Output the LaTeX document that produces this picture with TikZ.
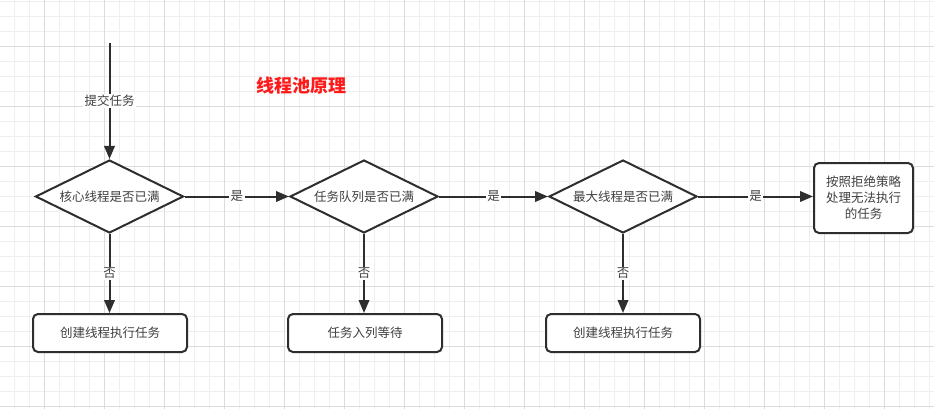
\documentclass[tikz,border=0pt]{standalone}
\usepackage{fontspec}
\setmainfont{Noto Sans CJK SC}
\usetikzlibrary{shapes.geometric,arrows.meta}
\definecolor{linec}{HTML}{2E2E2E}
\definecolor{txtc}{HTML}{404040}
\definecolor{gridminor}{HTML}{EFEFEF}
\definecolor{gridmajor}{HTML}{DCDCDC}
\definecolor{titlered}{HTML}{FF1A1A}
\tikzset{
  decision/.style={diamond, draw=linec, line width=2pt, fill=white, minimum width=148pt, minimum height=73pt, aspect=2.03, inner sep=0pt, text=txtc, font=\fontsize{12.5}{15}\selectfont},
  procbox/.style={rectangle, rounded corners=5pt, draw=linec, line width=2pt, fill=white, minimum width=154pt, minimum height=38pt, inner sep=0pt, text=txtc, font=\fontsize{12.5}{15}\selectfont},
  bigbox/.style={procbox, minimum width=99pt, minimum height=70pt, align=center, font=\fontsize{12.5}{16}\selectfont},
  conn/.style={draw=linec, line width=2pt, -{Triangle[length=13pt,width=10.5pt]}},
  lbl/.style={fill=white, text=txtc, inner sep=1.5pt, font=\fontsize{12.5}{15}\selectfont},
}
\begin{document}
\begin{tikzpicture}[x=1pt, y=-1pt]
\useasboundingbox (0,0) rectangle (934,409);
\fill[white] (0,0) rectangle (934,409);
\begin{scope}
\clip (0,0) rectangle (934,409);
\foreach \gx in {-1,14,...,934} \draw[gridminor, line width=0.8pt] (\gx,0) -- (\gx,409);
\foreach \gy in {1,16,...,409} \draw[gridminor, line width=0.8pt] (0,\gy) -- (934,\gy);
\foreach \gx in {44,104,...,934} \draw[gridmajor, line width=0.8pt] (\gx,0) -- (\gx,409);
\foreach \gy in {46,106,...,409} \draw[gridmajor, line width=0.8pt] (0,\gy) -- (934,\gy);
\end{scope}

\node[text=titlered, font=\fontsize{18}{20}\selectfont\bfseries] (title) at (301,86) {线程池原理};

\coordinate (start) at (109.5,43);
\node[decision] (d1) at (109.5,196.5) {核心线程是否已满};
\node[decision] (d2) at (364,196.5) {任务队列是否已满};
\node[decision] (d3) at (623,196.5) {最大线程是否已满};
\node[bigbox] (b4) at (863.5,198) {按照拒绝策略\\处理无法执行\\的任务};
\node[procbox] (b1) at (110,333) {创建线程执行任务};
\node[procbox] (b2) at (365,333) {任务入列等待};
\node[procbox] (b3) at (623,333) {创建线程执行任务};

\draw[conn] (start) -- node[lbl] {提交任务} (d1.north);
\draw[conn] (d1.east) -- node[lbl] {是} (d2.west);
\draw[conn] (d2.east) -- node[lbl] {是} (d3.west);
\draw[conn] (d3.east) -- node[lbl] {是} (b4.west |- d3.east);
\draw[conn] (d1.south) -- node[lbl] {否} (b1.north -| d1.south);
\draw[conn] (d2.south) -- node[lbl] {否} (b2.north -| d2.south);
\draw[conn] (d3.south) -- node[lbl] {否} (b3.north -| d3.south);
\end{tikzpicture}
\end{document}
